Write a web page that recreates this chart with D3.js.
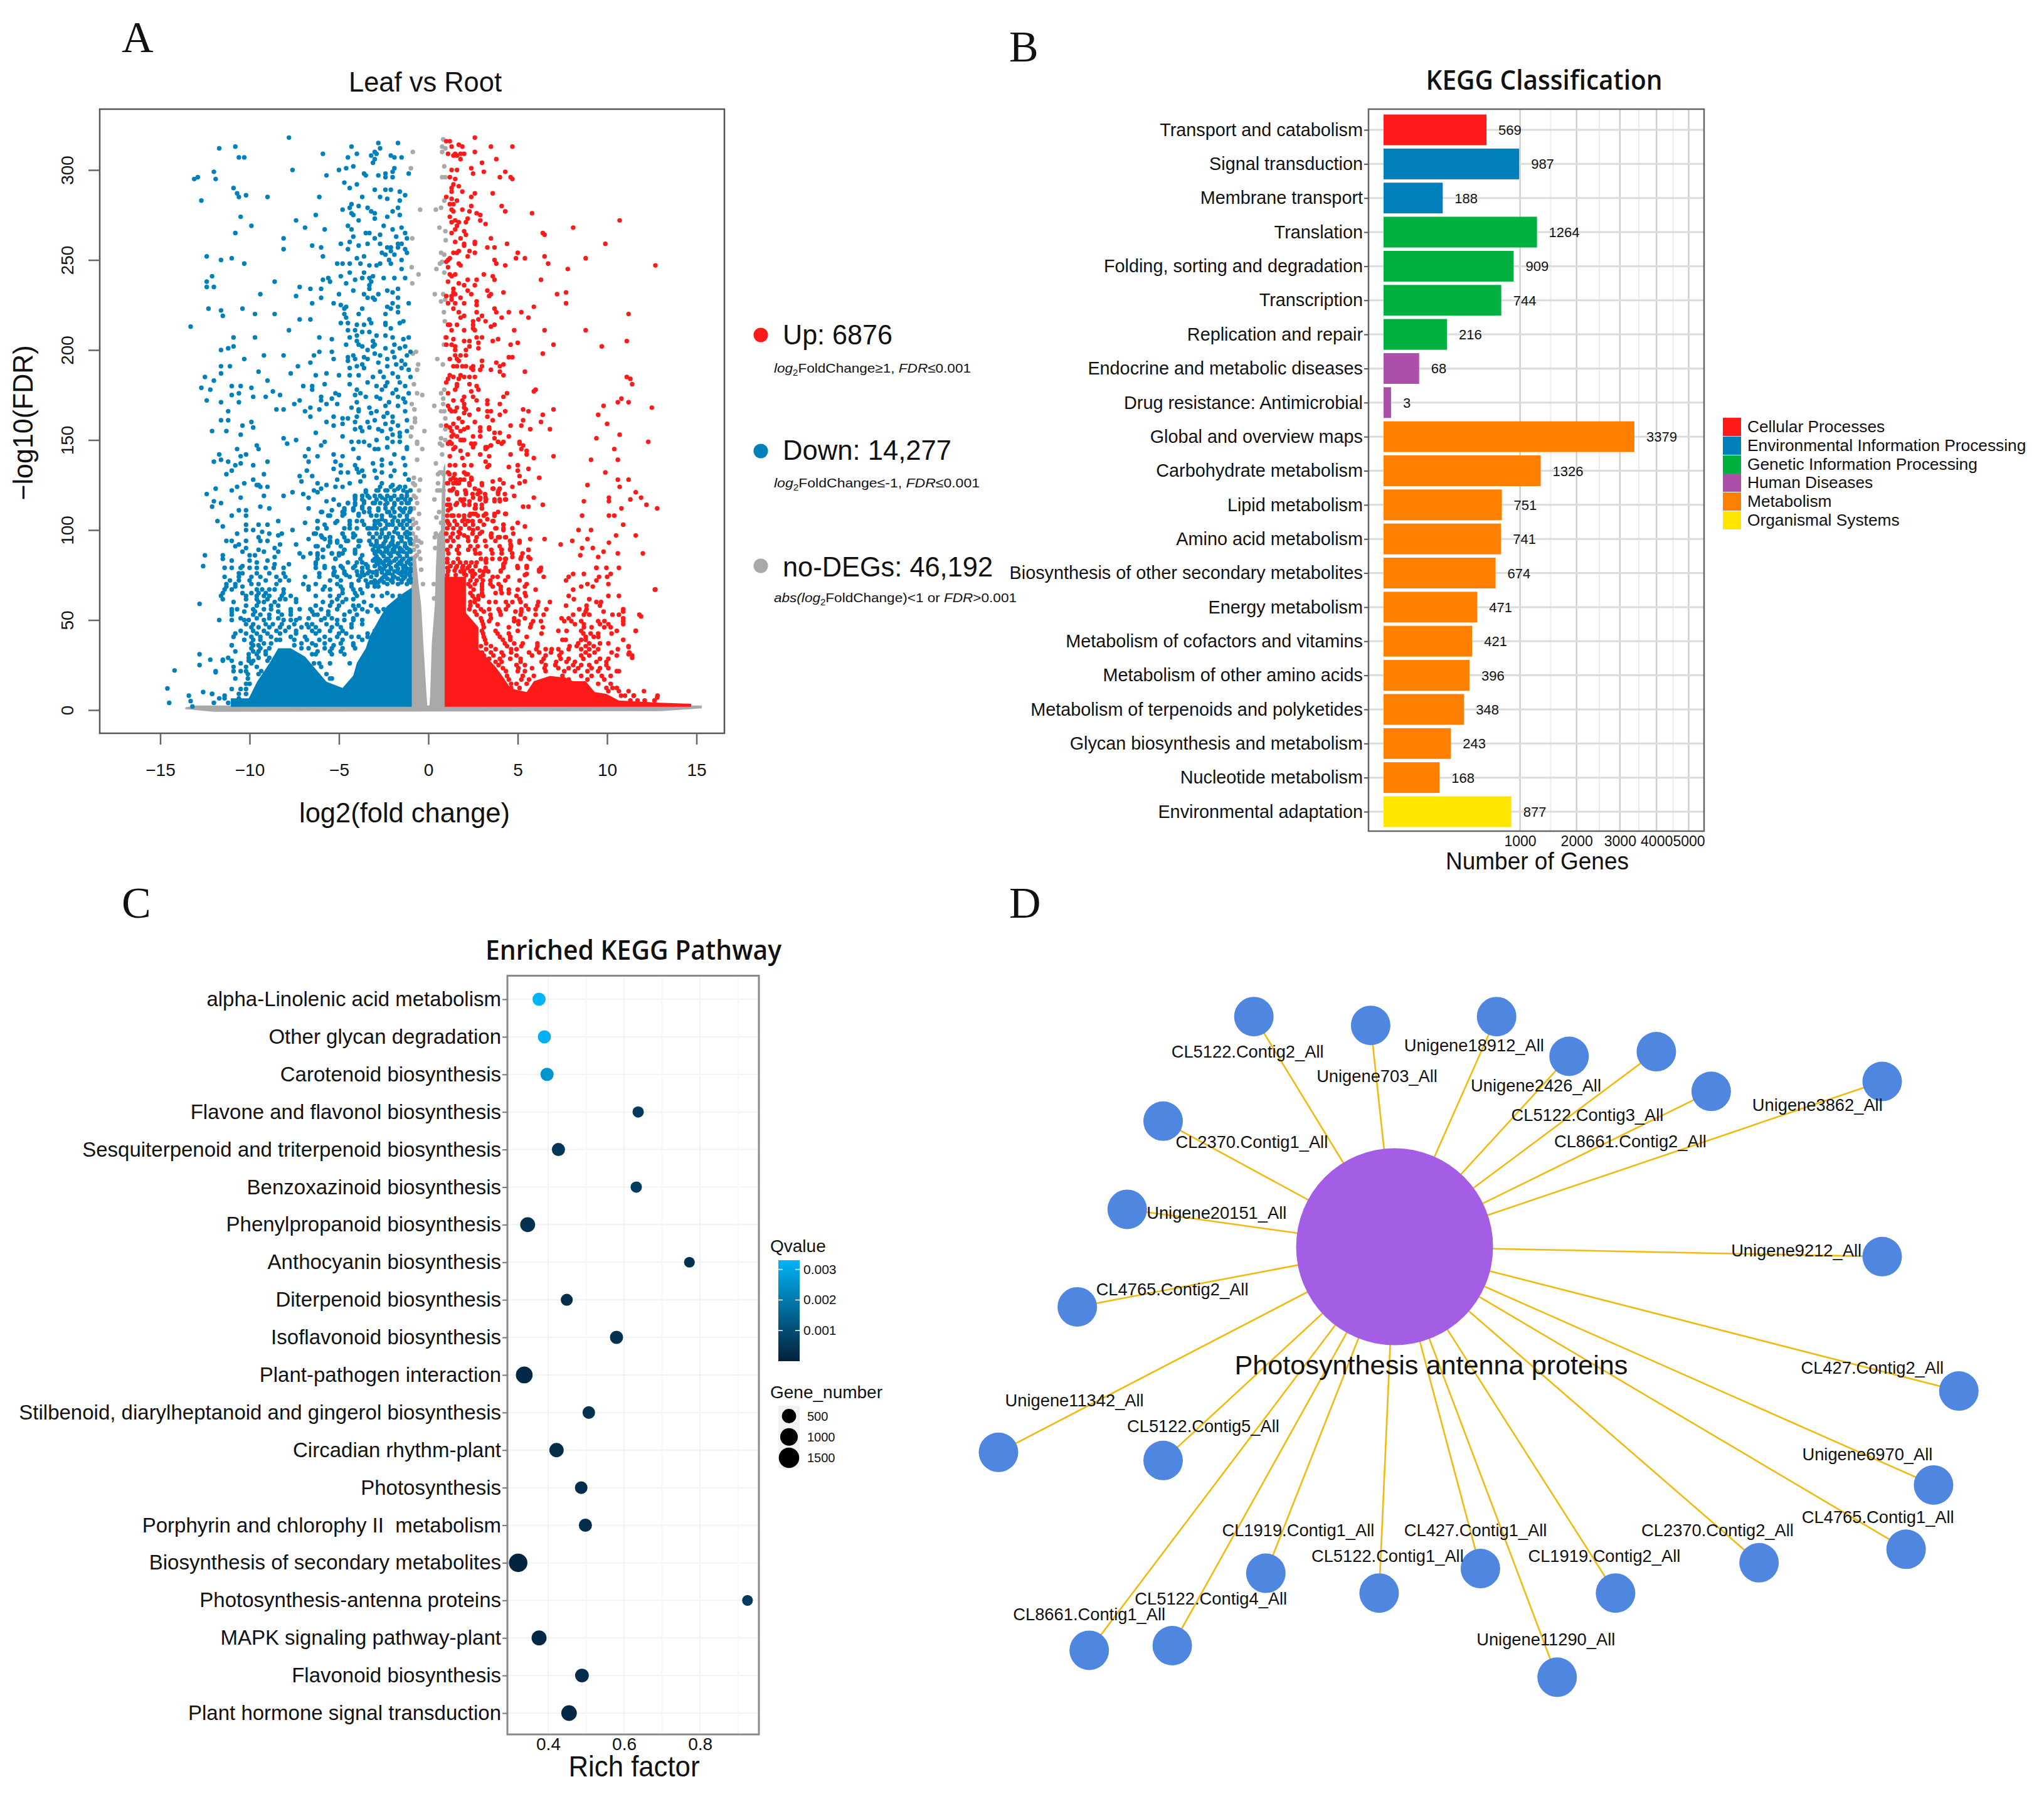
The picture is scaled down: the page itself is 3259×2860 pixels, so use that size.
<!DOCTYPE html>
<html><head><meta charset="utf-8">
<script src="https://cdn.jsdelivr.net/npm/d3@7/dist/d3.min.js"></script>
<style>html,body{margin:0;padding:0;background:#fff}svg{display:block}text{font-family:"Liberation Sans",Arial,sans-serif;fill:#111}</style>
</head><body><svg id="c" width="3259" height="2860" viewBox="0 0 3259 2860"></svg>
<script>
// ---------- Panel A: volcano (log2FC, -log10 FDR), dots; solid masses as read outlines
const blueUpperPts=[[-7.8,318],[-11.7,312],[-10.8,313],[-10.6,307],[-10.3,307],[-5.9,309],[-4.3,313],[-2.8,315],[-2.7,312],[-1.7,315],[-3,310],[-3.2,308],[-2.9,309],[-4,309],[-4.5,307],[-2.1,308],[-1.9,307],[-1.5,307],[-3,306],[-3.1,304],[-4.2,302],[-4.6,301],[-5,300],[-7.6,300],[-12,299],[-12.9,296],[-13.1,295],[-11.9,295],[-5.7,297],[-3.6,298],[-3.5,297],[-2.8,297],[-2.4,298],[-2.4,296],[-2,296],[-2,299],[-1.9,301],[-1.1,298],[-4.7,293],[-4.4,290],[-4,292],[-10.9,290],[-3,289],[-2.4,289],[-2.1,289],[-1.6,288],[-1.3,286],[-10.7,287],[-10.6,285],[-10.2,286],[-9,285],[-6.1,285],[-3.7,285],[-2.7,285],[-2.3,284],[-1.6,283],[-12.7,283],[-3.4,279],[-4.3,281],[-4.4,279],[-3.9,280],[-4.8,278],[-1.7,279],[-2,277],[-3.2,277],[-3,276],[-4.3,276],[-4.2,275],[-1.6,275],[-2.3,274],[-3,273],[-6.3,275],[-10.5,274],[-3.9,272],[-7.4,272],[-9.9,269],[-6.9,268],[-5.8,267],[-4.5,269],[-4.3,267],[-2.5,269],[-2,267],[-1.5,268],[-10.8,265],[-3.5,265],[-3.3,265],[-2.7,264],[-1.3,265],[-4.2,263],[-3,262],[-1.8,263],[-8.1,262],[-1.2,262],[-4.4,260],[-4.9,259],[-3.4,259],[-2.7,259],[-1.7,259],[-1.5,259],[-3.9,258],[-6.5,258],[-6,257],[-8.1,256],[-4.5,256],[-2.3,257],[-2.1,257],[-1.7,257],[-2.1,255],[-1.3,256],[-1.2,254],[-2.4,253],[-2.6,254],[-1.9,253],[-12.4,252],[-5.9,252],[-4,251],[-3.6,252],[-11.6,250],[-11,251],[-1.5,250],[-2.2,250],[-10.3,248],[-5.1,248],[-4.8,248],[-4.4,248],[-3.8,248],[-2.1,248],[-3.3,247],[-2.9,247],[-2.7,248],[-1.5,245],[-4.4,243],[-3.6,243],[-12.1,241],[-3.3,240],[-3.1,241],[-5.6,240],[-4.9,241],[-2.5,240],[-1.9,240],[-1.3,240],[-3.7,240],[-4.1,239],[-12.4,238],[-8.6,238],[-5.9,239],[-5.5,238],[-3.2,238],[-4.6,237],[-12.4,235],[-12,235],[-7.2,235],[-6.6,234],[-6,234],[-3.3,236],[-3.3,234],[-4.2,233],[-1.7,234],[-2.3,233],[-2,232],[-9.4,231],[-3.6,231],[-5,231],[-2.8,231],[-7.4,230],[-6,229],[-3.4,229],[-3.1,229],[-1.7,229],[-3,228],[-6.5,226],[-5.3,226],[-2,226],[-1.1,226],[-4.9,225],[-4.6,224],[-2.3,224],[-1.7,224],[-12.3,223],[-11.6,222],[-10.4,223],[-4.7,223],[-3.7,223],[-2.1,223],[-9.7,220],[-8.6,220],[-11.5,219],[-4.7,220],[-3.9,220],[-2.4,220],[-1.7,221],[-4.6,218],[-7.2,217],[-6.6,217],[-3.3,217],[-4.9,215],[-4.5,215],[-2.4,215],[-1.4,216],[-1.6,215],[-4,214],[-3.6,214],[-3.2,215],[-13.3,213],[-2.4,214],[-2.1,212],[-7.8,211],[-4.5,211],[-4.1,211],[-3.7,210],[-3.3,210],[-9.7,207],[-10.9,207],[-2.9,208],[-2.4,208],[-4,208],[-4.4,207],[-6.1,207],[-5.4,206],[-2,207],[-1.1,207],[-1.4,206],[-4,205],[-3.1,205],[-4.6,203],[-3.9,203],[-3,203],[-1.9,203],[-1.3,202],[-10.9,202],[-11.2,201],[-11.6,200],[-3.7,202],[-3.1,202],[-2.4,201],[-1.6,201],[-3.4,200],[-6.1,199],[-5.4,199],[-2,199],[-1,199],[-9.2,197],[-8.1,197],[-6.4,197],[-4.5,196],[-4.2,197],[-3,198],[-2.7,197],[-1.2,197],[-10.3,195],[-5.3,195],[-3.6,196],[-3.4,195],[-2.3,195],[-1.9,196],[-4.1,195],[-6.6,193],[-4.5,194],[-2.8,193],[-1.5,194],[-3.7,192],[-11.6,191],[-11.1,191],[-7.3,191],[-4,191],[-2.3,191],[-1.8,192],[-1.3,192],[-4.4,190],[-3.6,190],[-1.5,190],[-2.7,188],[-1.1,189],[-9.5,188],[-7.7,187],[-5.7,187],[-2,187],[-11.6,187],[-12.5,185],[-6.3,186],[-5,186],[-4.4,186],[-3.9,186],[-3.1,185],[-2.5,185],[-1.7,185],[-1,185],[-12,183],[-9,183],[-2.3,182],[-1.6,182],[-5.8,181],[-4.4,181],[-3.4,182],[-11,180],[-10.5,180],[-7,180],[-6.5,180],[-2.9,180],[-2.4,180],[-1.3,180],[-12.7,179],[-9.9,179],[-12.2,178],[-6.5,178],[-4,178],[-2.6,178],[-1.8,178],[-5.2,176],[-8.7,177],[-2,176],[-1.1,176],[-5,175],[-4.1,175],[-3.8,176],[-11,175],[-10.6,176],[-8.3,175],[-9.8,174],[-9.1,174],[-6,174],[-3.5,174],[-2.9,174],[-1.7,174],[-1.4,173],[-5.4,173],[-12.4,172],[-7.2,172],[-2.7,173],[-11.6,171],[-10.6,171],[-6,172],[-4,171],[-2.2,171],[-1.3,171],[-5.1,170],[-5.7,170],[-7.5,170],[-1.7,169],[-2.4,169],[-8.5,167],[-6.6,168],[-4.3,168],[-3.3,168],[-3.9,167],[-8.1,167],[-6.9,166],[-6.1,167],[-11.2,166],[-2.9,166],[-1.3,166],[-3.2,165],[-3.9,166],[-2.3,165],[-6.6,163],[-5.3,163],[-4,163],[-2.5,163],[-2,163],[-4.8,162],[-4.5,162],[-11.6,161],[-11.2,161],[-3.4,160],[-3,161],[-1.2,161],[-5.7,160],[-4.1,160],[-2.4,159],[-2,160],[-9.9,160],[-4.8,159],[-10.4,158],[-5.3,158],[-1.7,158],[-9.8,157],[-3.8,157],[-3.3,157],[-2.8,156],[-2.1,156],[-4.1,156],[-12.1,155],[-11.3,155],[-3.7,155],[-1.2,155],[-2.6,155],[-1.6,154],[-6.3,154],[-10.5,153],[-2,153],[-4.8,152],[-1.6,152],[-8.1,151],[-7.4,150],[-2.9,150],[-2.3,151],[-7.9,148],[-5.8,149],[-4.3,149],[-3.9,149],[-3.6,149],[-2,149],[-1.6,149],[-9.6,147],[-6,147],[-3.3,147],[-10.7,145],[-9.5,145],[-6.7,145],[-4.2,145],[-2.8,145],[-2.3,146],[-1.2,146]];
const blueLowerPts=[[-11.7,142],[-11.6,139],[-12,138],[-11.2,138],[-10.5,141],[-10.2,142],[-10.5,137],[-10.8,136],[-11,133],[-11.3,131],[-9.8,136],[-9,138],[-9.2,131],[-9.8,128],[-9.5,125],[-10.3,126],[-10.7,124],[-11.9,123],[-11,122],[-12.4,120],[-10.5,118],[-9.2,119],[-9,124],[-9.4,124],[-9.6,125],[-8.1,119],[-7.6,121],[-7,120],[-6.7,118],[-6.4,122],[-6.2,121],[-5.7,125],[-6,123],[-6.2,126],[-7.1,127],[-7.2,130],[-6.8,133],[-6.5,130],[-6.7,138],[-6.9,141],[-6.2,141],[-5.3,142],[-4.8,141],[-5.2,138],[-5.3,134],[-4.9,136],[-4.9,132],[-4.5,132],[-5.1,128],[-5.2,124],[-4.8,124],[-4.4,126],[-4.1,136],[-3.9,140],[-4,134],[-3.7,133],[-3.9,132],[-3.6,130],[-3.8,127],[-3.1,137],[-2.6,136],[-2.1,137],[-1.3,136],[-3,133],[-2.6,132],[-1.9,133],[-1.3,131],[-2.9,129],[-2.1,130],[-1.1,128],[-2.6,126],[-2,125],[-1.6,124],[-2.6,139],[-1.4,140],[-1.9,142],[-3,145],[-2.3,146],[-1.2,145],[-3.5,121],[-4.1,119],[-3.6,116],[-3.3,118],[-2.8,122],[-2.3,122],[-1.7,123],[-1.2,121],[-2.6,118],[-2.1,118],[-1.5,118],[-3,115],[-2.4,114],[-1.9,114],[-1.2,115],[-2.8,111],[-2.2,110],[-1.5,111],[-1,111],[-3.2,108],[-2.6,106],[-1.9,107],[-1.2,106],[-2.9,104],[-2.2,103],[-1.6,103],[-3.3,101],[-2.6,100],[-1.9,99],[-1.2,99],[-3.1,96],[-2.4,96],[-1.5,96],[-1,95],[-3.2,92],[-2.7,91],[-2,92],[-1.3,91],[-2.9,88],[-2.2,87],[-1.6,88],[-3,84],[-2.4,83],[-1.8,84],[-5.7,116],[-5.3,117],[-5,114],[-4.5,115],[-4.1,118],[-4.1,114],[-3.7,113],[-6.7,112],[-8.9,112],[-9.4,113],[-10.2,111],[-10.6,111],[-10.2,108],[-11,108],[-12.1,113],[-12,116],[-11.6,115],[-6,110],[-5.4,111],[-4.7,111],[-5.5,108],[-4.7,109],[-4.2,111],[-3.9,109],[-11.8,105],[-11.5,102],[-10.2,103],[-9.5,103],[-9,103],[-8.4,105],[-6.9,104],[-6.2,105],[-5.2,104],[-4.4,105],[-3.7,105],[-10.2,100],[-9.8,100],[-7.6,100],[-9.3,99],[-10.7,98],[-8.9,98],[-8.2,98],[-6.2,101],[-5.7,101],[-4.7,101],[-4,101],[-6.4,98],[-4.8,98],[-4.1,97],[-6,97],[-5.5,96],[-9.5,96],[-8.4,97],[-11.3,94],[-11,94],[-10.2,94],[-9.4,94],[-9,94],[-6.7,95],[-5.8,95],[-5.5,93],[-5.1,93],[-4.5,94],[-3.8,94],[-10.8,91],[-10.6,92],[-8.3,92],[-7.4,92],[-6.2,91],[-10.2,90],[-9.5,89],[-8.6,90],[-7.2,87],[-5.9,89],[-4.7,89],[-3.9,91],[-10.4,88],[-9.2,88],[-8.4,88],[-6.6,87],[-5.4,87],[-4.8,87],[-4.1,88],[-12.5,86],[-11.5,86],[-10,86],[-9.7,86],[-6.2,86],[-5.9,85],[-5,86],[-3.7,86],[-8.6,85],[-7,85],[-11.5,84],[-11,83],[-10,83],[-9,83],[-5.2,84],[-4.5,82],[-4,82],[-12.6,80],[-10.4,80],[-9.6,82],[-8.6,81],[-7.8,81],[-6.3,81],[-3.5,81],[-12.8,59],[-11,36],[-14.2,22],[-11.9,21],[-14.6,12],[-12.6,10],[-12.1,9],[-13.4,8],[-11.4,8],[-13.3,5],[-14.5,4],[-13.2,2],[-12.8,31],[-12.2,28],[-11.5,28],[-12.8,25]];
const blueRows=[[79,[-11.4,-11,-10.5,-10,-9.6,-9.1,-8.65,-8.1,-6.3,-5.8,-5.3,-4.8,-4.2,-3.7,-3.4,-2.7,-2.1,-1.4]],[76,[-10.6,-10.4,-9.6,-8.9,-8.1,-6.1,-5.3,-4.7,-3.7,-3.4,-2.9,-2.2,-1.6,-1.2]],[74,[-11.4,-10.6,-9.9,-9.4,-8.5,-8,-6.9,-6.1,-5.1,-4.4,-3.8,-3.2,-2.5,-1.9,-1.3]],[72,[-11.1,-10.6,-10,-9.1,-8.3,-7.8,-5.5,-4.9,-3.9,-3.5,-3,-2.7,-2.1,-1.5,-1.1]],[70,[-11.3,-10.8,-9.9,-9.5,-8.5,-7,-6.3,-5.1,-4.3,-3.4,-3,-2.3,-1.7,-1.2]],[68.6,[-11.3,-10.8,-10.4,-6.7,-5.8,-4.9,-4.3,-3.4,-3,-2.8]],[67,[-11.4,-11,-9.6,-9.3,-8.9,-8.6,-8.1,-6.7,-5.9,-5.5,-4.8,-4.2,-3.8]],[65,[-11.5,-10.4,-9.9,-9.5,-9.1,-8.1,-4.8,-4.1,-3.7,-2.3]],[63.4,[-11.6,-10.2,-9.6,-9.2,-8.9,-8.2,-7.7,-6.3,-5.5,-5,-4,-3.1,-2.6,-2,-1.6]],[61.6,[-11.5,-10.2,-9.6,-9,-8.3,-8,-7.4,-5.1,-4.6,-4.2]],[60,[-10.9,-9.5,-9.2,-8.6,-7.4,-5.9,-5.4,-4.8,-3.6]],[58,[-10.2,-9.6,-8.8,-8.4,-6.3,-5.5,-5,-4.2,-3.9,-3.2]],[56,[-11,-10.7,-9.8,-9.2,-8.8,-7.7,-7.2,-6.6,-6,-5.1,-4.1,-3.7,-2.9,-2.5]],[54.7,[-11,-10.3,-9.7,-8.4,-7.7,-6.5,-5.6,-4.4,-3.4,-2.8]],[53,[-11,-9.8,-9.4,-8.9,-8.2,-7.7,-6.4,-6.2,-5.6,-4.7,-4]],[51,[-10.5,-9.6,-8.9,-8.4,-7.2,-6.7,-5.8,-5.4,-4.2]],[50,[-11.7,-11,-10.3,-10.05,-9.2,-8.1,-7.7,-7.4,-6,-5.1,-4.7,-4.2,-3.7]],[47.7,[-10.2,-9.8,-9.1,-8.7,-8.2,-7.5,-6.8,-6.5,-5.7,-5.1,-4.3,-3.7]],[46,[-9.9,-9.5,-8.9,-8.3,-7.8,-7.1,-6.7,-6.3,-5.4,-4.9,-4.3]],[44,[-10.5,-9.8,-9.2,-8.5,-8,-7.4,-6.5,-6.1,-5.5,-4.8,-3]],[42.5,[-10.8,-10.2,-9.6,-9,-8.3,-7.4,-6.3,-5,-4.6,-3.4]],[40.7,[-10.9,-9.9,-9.4,-8.8,-7.7,-6.9,-5.8,-5.1,-4.3,-3.9,-3.4]],[39,[-10.3,-9.8,-9.4,-8.5,-8.3,-7.5,-6.8,-6.1,-5.5,-4.8,-3.7]],[37,[-9.9,-9.2,-8.8,-7.1,-6.5,-5.8,-4.9,-4.2]],[36,[-11,-9.8,-9.5,-7.5,-6.3,-5.3,-4.2]],[34.3,[-9.9,-9.4,-8.9,-7.1,-6.7,-5.8,-5.4,-4.8,-4.1]],[32.6,[-10.8,-9.8,-9.5,-9.1,-6.2,-5.5,-4.9]],[31,[-10.05,-9.6,-9.1,-6.5,-6.3,-5.4,-4.7]],[29,[-11.2,-10.05,-9.5,-8.9]],[27.4,[-11.5,-11,-10.05,-9.8,-9]],[26,[-10.5,-9.9,-6.4,-6.1,-5.5,-4.4]],[24,[-10.9,-10.2,-9.6,-6]],[21.6,[-11.9,-10.9,-10.5,-10.2,-9.35]],[20,[-10.1,-9.5,-5.7]],[17.5,[-10.8,-10.1,-5.5,-5.4]],[14.6,[-10.2,-10]],[11.7,[-11,-10.5,-10.2]],[9,[-12.1,-10.6,-10.2]],[6.5,[-11.7,-11.4,-10.6]],[4,[-12,-11.2]],
[124,[-2.7,-2.1,-1.6,-1.3]],[122,[-3.5,-2.9,-2.4,-1.9,-1.4,-1]],[119,[-4.1,-3.7,-3.4,-3,-2.7,-2.3,-1.9,-1.5,-1.2]],[117,[-4.1,-3.7,-2.9,-2.4,-2.1,-1.7,-1.3,-1]],[115,[-4.5,-4.1,-3.6,-3.1,-2.7,-2.3,-1.9,-1.5,-1.1]],[112,[-4.7,-4.2,-3.7,-3.3,-2.8,-2.4,-2,-1.6,-1.3,-1]],[110,[-5.95,-4.8,-3.6,-3.3,-2.3,-1.9,-1.4,-1.05]],[108,[-5.6,-4.8,-3.9,-2.9,-2.6,-2.1,-1.6,-1.2]],[105,[-6.2,-5.1,-4.4,-4,-3,-2.8,-2.4,-2,-1.7,-1.4,-1.05]],[103,[-5.8,-4.4,-3.6,-3,-2.7,-2.3,-2,-1.5,-1.2]],[101,[-5.7,-4.4,-3.4,-3.1,-2.9,-2.4,-1.8,-1.4,-1]],[98,[-6.3,-4.8,-4.2,-3.3,-2.9,-2.6,-2.2,-1.7,-1.3,-1.05]],[96,[-5.95,-5.5,-4.7,-4.2,-3.1,-2.7,-2.3,-2,-1.6,-1.2]],[94,[-5.5,-5.1,-4.6,-3.9,-3.3,-2.9,-2.4,-2,-1.5,-1.05]],[91,[-6.3,-5.6,-4.9,-3.9,-3,-2.6,-2.2,-1.8,-1.3]],[89,[-5.9,-4.7,-4.1,-3.1,-2.3,-2,-1.5,-1.05]],[87,[-6.2,-5.4,-5,-4.1,-3,-2.6,-2.1,-1.7,-1.2]],[84,[-6.2,-5.2,-3.8,-2.8,-2.3,-1.8,-1.4,-1]],[82,[-6.3,-3.7,-2.9,-2.6,-2.1,-1.6,-1.2]],[80,[-5.8,-4.9,-4.1,-3.4,-3,-2.4,-1.8,-1.3]],[77,[-5.25,-4.7,-4,-3.7,-3.3,-2.9,-2.3,-1.9,-1.45,-1]],[75,[-5.3,-4.6,-3.96,-3.6,-2.9,-2.4,-2,-1.5,-1.05]],
[92.5,[-2.9,-2.5,-2.1,-1.7,-1.3,-1]],[90,[-2.8,-2.4,-1.9,-1.6,-1.2]],[88,[-3,-2.7,-2.4,-1.9,-1.4,-1]],[85.5,[-2.9,-2.5,-2.1,-1.6,-1.2]],[83,[-3.1,-2.7,-2.2,-1.9,-1.5,-1.1]],[81,[-2.8,-2.5,-2.2,-1.7,-1.5,-1]],[78.5,[-2.7,-2.5,-2.1,-1.7,-1.2,-1]],[76.5,[-3.1,-2.6,-2.2,-1.7,-1.3]],[73,[-2.6,-2.3,-2,-1.7,-1.4,-1]],[71,[-3.2,-2.8,-2.5,-2,-1.5,-1]]];
const redUpperPts=[[2.6,318],[1,316],[1.2,316],[1.3,313],[1.7,314],[1.9,313],[3.5,313],[4.7,313],[2.6,310],[1.1,309],[1.5,309],[1.8,309],[2,309],[1.4,308],[1.6,308],[1.8,306],[3,304],[3.8,306],[1.3,300],[1.6,300],[2.4,301],[3.1,299],[4.3,299],[2.5,298],[1.2,296],[1.5,295],[4,296],[4.6,296],[4.7,295],[1.7,291],[1.4,292],[1.3,290],[1.3,288],[1.9,288],[2.6,287],[3.6,287],[2.4,285],[1,285],[1.3,284],[1.6,283],[1.2,281],[1.4,281],[2.4,280],[4.1,280],[1.3,278],[1.9,278],[2.3,277],[1.4,277],[4.3,277],[5.8,276],[2.7,276],[1.2,274],[2.9,275],[2.2,273],[2.9,272],[1.5,272],[10.7,272],[1.3,271],[1.7,271],[2.1,271],[3.2,270],[1.6,269],[1.5,267],[8.1,268],[2,266],[1.3,265],[2.1,264],[6.4,265],[6.5,264],[3.5,262],[1.8,262],[1.5,260],[2.6,260],[2,259],[2.6,259],[9.9,259],[4.4,259],[2,258],[3.3,257],[3.7,257],[1.7,255],[2.3,255],[1.6,254],[1.4,254],[2.6,254],[5,254],[2.2,252],[6.5,252],[5.4,251],[8.8,251],[4.9,251],[1.2,251],[1.1,250],[3.7,250],[1,249],[1.7,248],[3.8,248],[4.3,247],[6.7,248],[12.7,247],[1.1,246],[1.8,247],[7.8,245],[1.5,242],[1.2,242],[1.3,241],[3.1,242],[3.6,241],[3.7,239],[2.2,239],[2.7,239],[6.3,239],[1.1,238],[1.7,237],[2,236],[2.6,236],[1.4,234],[3.3,233],[2.2,233],[1.4,232],[4.2,232],[7.7,232],[7.2,231],[3.5,231],[2.4,231],[1.5,231],[1.3,230],[3.4,230],[1,230],[1.8,229],[1.3,228],[2.7,227],[1.1,226],[1.5,226],[2,226],[2.7,225],[7.7,226],[5.9,224],[1.4,223],[3.7,223],[1.7,221],[2.7,221],[3.8,221],[4.5,221],[5.2,221],[3,219],[2,219],[11.2,220],[1.8,218],[4.1,218],[5.6,218],[2.8,217],[3.2,216],[2.5,216],[1.1,214],[1.2,214],[1.6,214],[2.5,214],[3.7,214],[3.5,213],[2.5,212],[2,211],[1.3,211],[2.6,211],[4.8,211],[6.5,211],[8.8,211],[1,207],[2.7,207],[3,207],[3.9,206],[1.4,206],[2,205],[2.3,205],[3.6,205],[11.1,205],[5,204],[2.8,204],[7,203],[4.6,203],[1.3,203],[2.3,202],[1.5,202],[9.7,202],[1,203],[2.8,201],[2.1,200],[1.5,200],[6.4,198],[2.1,197],[1.8,197],[1.5,197],[4.5,196],[4.7,196],[1.2,195],[1.6,195],[1.7,194],[3,194],[3.8,193],[4.2,192],[4,191],[3,191],[1.4,191],[1.6,191],[1.9,191],[2.1,191],[2.5,191],[2.4,190],[2.5,189],[2.9,189],[3.5,189],[5.4,188],[4,188],[4.2,186],[1.2,186],[1.8,186],[2,185],[2.3,185],[2.6,185],[1.4,185],[11.1,185],[11.3,184],[1.1,184],[1.7,184],[11.4,181],[1,182],[1.6,181],[2.3,181],[2.7,180],[1.6,180],[6,178],[5.9,177],[2.8,178],[1.5,178],[2.4,177],[1.1,176],[4.4,176],[4.2,174],[2.5,174],[2,174],[10.8,173],[1.4,172],[1.9,172],[3.3,172],[2.7,172],[10.6,171],[11.2,171],[4,170],[2,170],[3.3,170],[9.8,169],[1.1,169],[1.6,168],[1.2,167],[2,168],[12.5,168],[2.1,167],[1.3,166],[1.5,166],[2.8,167],[3.3,166],[3.5,166],[4.3,166],[5.3,167],[5.6,166],[7,167],[2,165],[2.3,164],[3.3,163],[4,164],[6.4,164],[9.5,164],[1.7,162],[3.6,161],[5.3,161],[1.9,160],[2.6,160],[6.3,160],[10,159],[1,158],[1.4,159],[4.6,158],[5.2,158],[2.2,157],[3.4,157],[2.9,157],[1.2,157],[1.6,157],[2,156],[5.7,156],[6.8,156],[1.3,155],[1.8,155],[3.4,156],[2.9,155],[1.4,153],[4,154],[3.7,154],[1.3,152],[2.5,152],[2.9,152],[4.5,152],[9.4,151],[10.7,153],[1.6,152],[3.7,151],[1.2,149],[1.8,150],[2,150],[12.3,149],[3.9,149],[4.1,148],[5.1,149],[1.3,148],[2.4,148],[2.6,148],[3.5,147],[3.3,146],[5.3,147],[1.5,146],[2.5,146],[10.4,145],[5.2,145],[3.2,145],[5.5,144]];
const redLowerPts=[[7,141],[9.1,139],[10.6,139],[5.9,140],[5.5,142],[4.6,142],[5.1,148],[3.9,149],[4.2,149],[3.2,146],[3.5,147],[2.9,142],[3.4,141],[3.2,138],[3.4,136],[3.3,135],[2.4,136],[2.5,147],[1.9,150],[1.1,148],[1.4,145],[1.8,144],[2.2,142],[1.2,141],[1.9,140],[1.5,136],[1.2,136],[2,136],[4.5,135],[5,136],[5,133],[5.6,134],[6.2,129],[5.1,130],[9.9,132],[10.6,128],[11.2,128],[5.4,127],[5.1,126],[3.6,127],[4,128],[4.2,126],[3,125],[4.7,124],[8.9,125],[10.7,124],[1.1,132],[2,132],[2.2,131],[2.4,129],[1.4,129],[1.8,128],[1.1,126],[1.6,126],[2.3,125],[3.6,123],[2.6,123],[1.2,122],[1.6,121],[2.1,121],[2.9,121],[3.9,121],[11.6,121],[11.9,118],[11.3,117],[10.1,118],[10.1,116],[8.7,116],[5.9,118],[4.8,119],[3.9,120],[3.2,118],[3.2,116],[2.9,118],[3.7,116],[4,116],[4.3,117],[2.5,118],[1.9,116],[2.3,116],[1.2,114],[1.6,115],[2.6,112],[2,114],[3,112],[12.2,114],[12.8,112],[10.8,112],[6.4,114],[5.6,113],[5.3,113],[1.1,111],[2.5,109],[3.2,109],[3.9,110],[4.3,109],[3.7,108],[8.6,108],[10.1,108],[10.4,108],[1.4,108],[2,106],[2.2,105],[2.9,105],[3.3,106],[3.6,105],[5,104],[10.9,103],[1.1,104],[1.6,103],[4.2,103],[5.4,102],[2.5,100],[3.8,101],[4.7,101],[8.4,100],[9.1,100],[4.2,100],[1.7,99],[3,99],[2,97],[3.5,97],[3.9,96],[4.3,96],[10.5,97],[11.6,97],[5.7,95],[6.5,95],[8.9,95],[8.05,94],[10.1,93],[4.6,92],[5.1,93],[7.4,92],[9.2,90],[9.8,88],[8.6,90],[4.1,89],[4.6,90],[5.6,89],[10.6,87],[12,87],[8.5,86],[5.6,85],[5.2,85],[9.5,85],[4.7,85],[4,84],[4.3,84],[3.2,83],[4.2,81],[5.5,80],[5,79],[9.4,79],[6.2,78],[12.7,67],[11.9,52],[11.6,44],[11.2,35],[11.2,31],[11.4,29],[12.8,7],[11.5,8]];
const redRows=[[79,[1.07,1.54,1.9,2.2,3.2,4.2,5,5.5,6.3,9.4,9.96,10.66]],[77,[1.1,1.8,2.35,3.1,3.35,4.05,6.2]],[75.6,[2,2.6,5.5,8.1,8.7,10.2]],[74,[2.47,2.9,3.6,3.87,4.46,6.45,7.85,9.55,10]],[72,[2.35,2.7,3.05,3.47,4.3,5.1,7.7,9.4]],[70,[2.24,2.6,3,3.47,3.93,5.5,8.9,10.07]],[68.6,[2.35,3,3.6,4.05,5.4,8.55,9.2]],[66.9,[2.53,3,4.05,4.5,5,6,8.1,12.67]],[65,[2.35,3,3.76,4.1,4.5,5.4]],[63.4,[2.47,2.8,3.05,4.93,5.45,7.85,10.07,10.66]],[61.6,[2.6,2.8,5.1,8.14,9]],[60,[2.35,2.6,3.4,3.76,4.34,4.7,5.16,6.15,6.8,9.4,9.66]],[58,[2.35,2.76,4.46,5.45,6.1,7.7,8.85,9.6]],[56,[2.3,2.94,3.4,3.93,4.34,5.2,5.6,6,6.6,8.44,8.85,10.9]],[54.7,[2.6,3.1,4,4.87,5.2,8.8,9.8,10.9]],[53,[2.7,3.47,4.05,5.16,6,6.45,8.1,8.7,9,10.3,10.66,11.8]],[51,[2.94,3.5,4.8,5.4,7.45,7.85,10.9]],[49.4,[3,3.4,4.8,5.04,5.86,6.3,7.6,8,8.55,9.5,9.85,10.9]],[47.7,[3.06,3.87,5.04,5.75,8.2,8.7,9.6,10.07,10.9]],[46,[3.1,4.5,5.7,6.4,8.7,9.13,9.84,10.2]],[44,[3,3.76,5,7.27,7.73,8.55,10.54,11.6]],[42.5,[3.06,3.87,4.5,6.33,8.67,9.08,9.5,10.25]],[40.7,[3.1,4,4.58,5.5,8.8,9.25,9.5]],[39,[3.17,4.17,4.58,7.5,7.68,8.55,8.8,10.9]],[37,[3.23,4.28,4.8,5.28,6.1,8.38,9,9.6,10.07]],[35.5,[2.94,3.5,4.4,5.2,6.1,7.9,8.3,8.8,9.25,11.2]],[33.8,[3.23,3.76,4.63,4.93,6.04,6.56,6.9,7.27,7.85,8.55,9,9.5,10.6]],[32,[3,3.5,4.1,4.63,5.63,6.2,6.86,7.44,8.8,9.3,10.25,11.24]],[30.3,[3.1,3.64,4.2,4.93,5.8,6.56,7.33,8.55,9,10.54,11.4]],[28.5,[3.4,4,4.58,5.16,6.45,7.4,7.85,8.67,9.6,10.07]],[26.8,[3.76,4.1,5.16,6.33,7.15,7.73,8.2,9.4,9.96]],[25,[3.93,4.93,5.4,6.56,7.1,8.1,8.55,9,9.96]],[23.3,[4.17,5.04,5.8,6.5,7.27,7.85,8.38,9.13,9.6,10.07]],[21.6,[4.34,5,5.4,6.56,7.6,8.2,8.9,9.5,10.54,10.66]],[19,[4.4,5.28,5.9,7.5,8.55,9.13,9.7,10.2]],[17,[4.5,5.2,5.63,7.6,7.85,8.9,9.84]],[14.6,[4.63,4.93,5.5,9.5,10.2]],[12.3,[4.63,5.1,9.96,10.3,10.54]],[10.5,[4.58,11.2,12.06,10.66,10.07]],[8,[11.48,12.82,10.78,11]],[5.3,[11.3,11.7,12.1,12.65]],
[108,[1.06,1.3,1.7,2,2.3,2.76,3.1,3.7]],[105,[1.06,1.47,1.9,2.23,2.47,2.88,3.64]],[103,[1.18,1.6,2.06,2.5,3.1,4.2]],[101,[1.06,1.4,1.8,2.29,2.76,3.75,4.2]],[98,[1,1.36,1.77,2.47,2.88,3.52,4.75]],[96,[1.24,1.65,2.2,2.7,3.52,3.99,4.34]],[94,[1.06,1.4,2.23,2.64,3.17,3.75,4.57,5.1]],[91,[1.24,1.7,2.35,2.76,3.23,3.99,4.63]],[89,[1.06,1.6,2.23,2.6,3.52,4.1,4.57,5.6]],[87,[1.12,1.7,2.64,2.88,3.58,4.1,4.69,5.27]],[84,[1.06,1.65,2.94,3.23,3.58,3.99,4.34,5.16,5.7]],[82,[1.06,1.4,1.77,2.1,2.41,2.7,3.23,4.28]],[80,[1.24,1.6,1.94,2.29,2.64,4.2,4.98,5.5]],[77.5,[1.12,1.47,2,2.47,2.88,3.23,4.05,6.27]],[75,[1.06,1.53,2.1,2.47,3.05,5.4]],
[131,[1.18,1.47,2.1]],[128,[1.24,1.53,1.77,2,2.41]],[126,[1.06,1.4,1.7,2.29,2.99]],[123,[1.4,3.64,3.99]],[122,[1.3,2.06,2.82,3.93]],[120,[1.6,2.1,2.47,2.76,3.17,4.28]],[117,[1.12,1.8,2,2.88,3.23,3.7,3.99,4.34]],[114,[1.06,1.53,2,2.29,2.64,2.99]],[112,[1.24,2.64,2.99]],[109,[2.35,2.64,3.23,3.7,4.34]]];
const greyPts=[[0.83,317],[0.77,313],[0.95,312],[0.77,310],[0.89,302],[0.77,296],[0.95,296],[0.89,283],[0.42,278],[0.71,279],[-0.46,278],[0.62,268],[0.95,266],[0.97,261],[0.71,254],[0.89,253],[0.77,249],[0.65,248],[0.45,245],[0.89,243],[0.36,231],[0.83,231],[0.95,228],[0.71,227],[0.87,221],[0.92,216],[0.95,207],[0.87,203],[0.5,195],[0.81,192],[0.89,178],[0.71,176],[0.83,173],[0.83,170],[0.33,169],[0.71,166],[0.89,166],[0.95,162],[0.71,158],[0.95,156],[0.71,151],[0.77,147],[0.95,150],[-0.87,310],[-0.98,301],[-0.9,262],[-0.93,246],[-0.55,242],[-0.9,237],[-0.69,199],[-0.87,198],[-0.57,192],[-0.63,189],[-0.81,181],[-0.63,176],[-0.34,175],[-0.93,170],[-0.78,167],[-0.75,162],[-0.75,160],[-0.93,157],[-0.22,155],[-0.98,152],[-0.63,149],[-0.34,145],[-0.63,148],[-0.63,139],[0.42,137],[-0.81,129],[-0.46,128],[-0.75,125],[-0.52,122],[-0.81,119],[0.34,117],[-0.63,115],[-0.81,112],[-0.52,109],[-0.87,106],[-0.69,104],[-0.57,101],[-0.87,98],[0.36,96],[-0.75,94],[-0.4,93],[-0.63,91],[-0.81,89],[-0.52,88],[-0.75,85],[0.65,148],[0.77,142],[0.54,131],[0.77,132],[0.54,126],[0.71,122],[0.6,110],[0.71,104],[0.42,98],[0.5,122],[0.6,122],[0.85,122],[0.65,132],[0.85,131],[-0.85,126],[-0.7,118],[-0.85,103],[-0.7,96],[-0.55,94],[-0.85,92],[-0.65,86],[-0.45,84],[-0.4,78],[-0.3,70],[0.3,70],[0.32,62],[0.38,90],[0.45,107]];
const blueDense=[[-11.05,1.8],[-11.05,6.5],[-10.05,6.5],[-9.93,8.8],[-9.58,15.8],[-8.88,26.2],[-8.4,34.3],[-7.7,34.3],[-6.9,29.7],[-6.3,22.7],[-5.7,15.8],[-4.8,12.3],[-4.2,19.2],[-4,26.2],[-3.5,34.3],[-3.27,41.3],[-2.68,51.8],[-2.33,57.6],[-1.63,63.4],[-0.93,68],[-0.93,1.8]];
const redDense=[[0.91,74],[2.1,74],[2.1,54],[2.8,46],[2.8,34],[3.2,30],[3.76,24],[4.2,18],[4.6,12],[5.5,10],[5.9,16],[6.8,19],[7.6,18],[8.1,16],[8.8,16],[9.3,10],[9.96,9],[10.66,5.3],[12.9,4.1],[14.7,3.5],[14.7,1.8],[0.91,1.8]];
const greyBand=[[-13.6,1.5],[-13,2.5],[15.3,2.5],[15.3,1],[13,-0.6],[-12,-1],[-13.6,0.5]];
const greyLeft=[[-0.95,1],[-0.95,86],[-0.69,84],[-0.55,70],[-0.4,58],[-0.28,37],[-0.1,8],[-0.05,1]];
const greyRight=[[0.05,1],[0.1,8],[0.19,37],[0.36,58],[0.42,79],[0.5,97],[0.7,100],[0.75,120],[0.85,135],[0.95,137],[0.95,1]];
const volcanoXTicks=[-15,-10,-5,0,5,10,15];
const volcanoYTicks=[0,50,100,150,200,250,300];
// ---------- Panel B
const keggNames=["Transport and catabolism","Signal transduction","Membrane transport","Translation","Folding, sorting and degradation","Transcription","Replication and repair","Endocrine and metabolic diseases","Drug resistance: Antimicrobial","Global and overview maps","Carbohydrate metabolism","Lipid metabolism","Amino acid metabolism","Biosynthesis of other secondary metabolites","Energy metabolism","Metabolism of cofactors and vitamins","Metabolism of other amino acids","Metabolism of terpenoids and polyketides","Glycan biosynthesis and metabolism","Nucleotide metabolism","Environmental adaptation"];
const keggValues=[569,987,188,1264,909,744,216,68,3,3379,1326,751,741,674,471,421,396,348,243,168,877];
const keggClass=[0,1,1,2,2,2,2,3,3,4,4,4,4,4,4,4,4,4,4,4,5];
const keggClassNames=["Cellular Processes","Environmental Information Processing","Genetic Information Processing","Human Diseases","Metabolism","Organismal Systems"];
const keggColors=["#ff1a1a","#0080bb","#00b140","#ac4fa8","#ff8000","#ffe600"];
const keggTicks=[1000,2000,3000,4000,5000];
const keggMinor=[1500,2500,3500,4500];
// ---------- Panel C
const pathNames=["alpha-Linolenic acid metabolism","Other glycan degradation","Carotenoid biosynthesis","Flavone and flavonol biosynthesis","Sesquiterpenoid and triterpenoid biosynthesis","Benzoxazinoid biosynthesis","Phenylpropanoid biosynthesis","Anthocyanin biosynthesis","Diterpenoid biosynthesis","Isoflavonoid biosynthesis","Plant-pathogen interaction","Stilbenoid, diarylheptanoid and gingerol biosynthesis","Circadian rhythm-plant","Photosynthesis","Porphyrin and chlorophy II\u00a0 metabolism","Biosynthesis of secondary metabolites","Photosynthesis-antenna proteins","MAPK signaling pathway-plant","Flavonoid biosynthesis","Plant hormone signal transduction"];
const richFactor=[.376,.39,.397,.637,.427,.632,.346,.772,.449,.58,.337,.507,.422,.487,.498,.321,.925,.376,.489,.455];
const geneNumber=[360,360,360,150,360,150,590,90,220,360,860,290,510,290,360,1150,90,590,430,680];
const qValue=[.0033,.0032,.0026,.0006,.0005,.0006,.0004,.0004,.0003,.0004,.0002,.0004,.0003,.0003,.0003,.0001,.0006,.0002,.0003,.0002];
const richTicks=[.4,.6,.8];
const qTicks=[.003,.002,.001];
const geneKey=[500,1000,1500];
// ---------- Panel D (network layout units)
const netNames=["CL5122.Contig2_All","Unigene703_All","Unigene18912_All","Unigene2426_All","CL5122.Contig3_All","CL8661.Contig2_All","Unigene3862_All","Unigene9212_All","CL427.Contig2_All","Unigene6970_All","CL4765.Contig1_All","CL2370.Contig2_All","CL1919.Contig2_All","Unigene11290_All","CL427.Contig1_All","CL5122.Contig1_All","CL1919.Contig1_All","CL5122.Contig4_All","CL8661.Contig1_All","CL5122.Contig5_All","Unigene11342_All","CL4765.Contig2_All","Unigene20151_All","CL2370.Contig1_All"];
const netX=[445,611,790,893,1017,1095,1338,1338,1447,1411,1372,1163,959,876,767,623,462,329,211,316,82,194,265,316];
const netY=[237,252,237,305,297,365,348,648,878,1039,1149,1172,1224,1368,1182,1224,1190,1314,1322,997,983,734,567,416];
const netLabelX=[436,620,758,846,919,980,1246,1216,1324,1317,1332,1104,943,860,760,635,508,384,211,373,190,329,392,442];
const netLabelY=[298,339,287,355,406,451,389,638,839,987,1094,1117,1161,1304,1117,1161,1117,1234,1261,939,895,705,573,452];
const hub={name:"Photosynthesis antenna proteins",x:645,y:631};

const svg=d3.select("#c");
svg.append("rect").attr("width",3259).attr("height",2860).attr("fill","#fff");
function txt(g,s,x,y,size,o={}){
  const t=g.append("text").attr("x",x).attr("y",y).attr("font-size",size).attr("text-anchor",o.anchor||"start").text(s);
  if(o.family)t.style("font-family",o.family);
  if(o.weight)t.attr("font-weight",o.weight);
  if(o.len)t.attr("textLength",o.len).attr("lengthAdjust","spacingAndGlyphs");
  if(o.rot!==undefined)t.attr("transform",`rotate(${o.rot},${x},${y})`);
  return t;
}
const serif='"Liberation Serif",serif';
[["A",194,83],["B",1609,98],["C",194,1463],["D",1609,1463]].forEach(d=>txt(svg,d[0],d[1],d[2],70,{family:serif}));

// ===== A
(function(){
  const g=svg.append("g");
  const L=159,R=1155,T=174,B=1169;
  const x=d3.scaleLinear().domain([(L-683)/28.5,(R-683)/28.5]).range([L,R]);
  const y=d3.scaleLinear().domain([(1132-B)/2.87,(1132-T)/2.87]).range([B,T]);
  const poly=d3.line().x(d=>x(d[0])).y(d=>y(d[1])).curve(d3.curveLinearClosed);
  const gry="#a9a9a9",blu="#0080bb",red="#ff1a1a";
  const rows=r=>r.flatMap(([v,xs])=>xs.map(u=>[u,v]));
  [greyBand,greyLeft,greyRight].forEach(p=>g.append("path").attr("d",poly(p)).attr("fill",gry));
  const dots=(a,c)=>g.append("g").attr("fill",c).selectAll("circle").data(a).join("circle").attr("cx",d=>x(d[0])).attr("cy",d=>y(d[1])).attr("r",3.7);
  dots(greyPts,gry);
  g.append("path").attr("d",poly(blueDense)).attr("fill",blu);
  g.append("path").attr("d",poly(redDense)).attr("fill",red);
  dots(blueUpperPts.concat(blueLowerPts,rows(blueRows)),blu);
  dots(redUpperPts.concat(redLowerPts,rows(redRows)),red);
  g.append("rect").attr("x",L).attr("y",T).attr("width",R-L).attr("height",B-T).attr("fill","none").attr("stroke","#555").attr("stroke-width",2.5);
  const ax=g.append("g").attr("transform",`translate(0,${B})`).call(d3.axisBottom(x).tickValues(volcanoXTicks).tickSize(18).tickPadding(30));
  ax.select(".domain").remove();
  ax.selectAll("line").attr("stroke","#666").attr("stroke-width",2.5);
  ax.selectAll("text").attr("font-size",28).style("font-family",'"Liberation Sans"').attr("fill","#222");
  const ay=g.append("g").attr("transform",`translate(${L},0)`).call(d3.axisLeft(y).tickValues(volcanoYTicks).tickSize(18).tickPadding(0));
  ay.select(".domain").remove();
  ay.selectAll("line").attr("stroke","#666").attr("stroke-width",2.5);
  ay.selectAll("text").attr("font-size",28).style("font-family",'"Liberation Sans"').attr("fill","#222").attr("text-anchor","middle").attr("dy",0).attr("x",-42).attr("y",0)
    .attr("transform",function(){return "rotate(-90,-42,0)";}).attr("dominant-baseline","auto");
  txt(g,"Leaf vs Root",678,146,44,{anchor:"middle",len:244});
  txt(g,"log2(fold change)",645,1311,44,{anchor:"middle",len:336});
  txt(g,"\u2212log10(FDR)",52,674,44,{anchor:"middle",len:247,rot:-90});
  const legend=[[red,534,"Up: 6876",549,175],[blu,719,"Down: 14,277",733,269],[gry,902,"no-DEGs: 46,192",919,335]];
  legend.forEach(d=>{
    g.append("circle").attr("cx",1213).attr("cy",d[1]).attr("r",11.5).attr("fill",d[0]);
    txt(g,d[2],1248,d[3],44,{len:d[4]});
  });
  function sub(yy,parts,w){
    const t=g.append("text").attr("x",1234).attr("y",yy).attr("font-size",21).attr("textLength",w).attr("lengthAdjust","spacingAndGlyphs");
    parts.forEach(p=>{const s=t.append("tspan").text(p[0]);if(p[1]==="i")s.attr("font-style","italic");
      if(p[1]==="s")s.attr("font-size",14).attr("dy",5);if(p[1]==="u")s.attr("dy",-5);});
  }
  sub(594,[["log","i"],["2","s"],["FoldChange\u22651, ","u"],["FDR","i"],["\u22640.001"]],314);
  sub(777,[["log","i"],["2","s"],["FoldChange\u2264-1, ","u"],["FDR","i"],["\u22640.001"]],328);
  sub(960,[["abs(log","i"],["2","s"],["FoldChange)<1 or ","u"],["FDR","i"],[">0.001"]],387);
})();

// ===== B
(function(){
  const g=svg.append("g");
  const L=2182,R=2717,T=174,B=1325;
  const x=d3.scaleSqrt().domain([0,5000]).range([2206,2692.5]);
  const y=d3.scalePoint().domain(keggNames).range([207,1294]);
  keggMinor.forEach(v=>g.append("line").attr("x1",x(v)).attr("x2",x(v)).attr("y1",T).attr("y2",B).attr("stroke","#ececec").attr("stroke-width",2));
  keggTicks.forEach(v=>g.append("line").attr("x1",x(v)).attr("x2",x(v)).attr("y1",T).attr("y2",B).attr("stroke","#cfcfcf").attr("stroke-width",2.5));
  keggNames.forEach(n=>g.append("line").attr("x1",L).attr("x2",R).attr("y1",y(n)).attr("y2",y(n)).attr("stroke","#dcdcdc").attr("stroke-width",3));
  g.selectAll("rect.bar").data(keggNames).join("rect").attr("class","bar").attr("x",x(0)).attr("y",d=>y(d)-24.5).attr("height",49)
    .attr("width",(d,i)=>x(keggValues[i])-x(0)).attr("fill",(d,i)=>keggColors[keggClass[i]]);
  g.selectAll("text.val").data(keggNames).join("text").attr("class","val").attr("x",(d,i)=>x(keggValues[i])+19).attr("y",d=>y(d)+8).attr("font-size",22).text((d,i)=>keggValues[i]);
  g.append("rect").attr("x",L).attr("y",T).attr("width",R-L).attr("height",B-T).attr("fill","none").attr("stroke","#666").attr("stroke-width",2.5);
  const ay=g.append("g").attr("transform",`translate(${L},0)`).call(d3.axisLeft(y).tickSize(7).tickPadding(2));
  ay.select(".domain").remove();ay.selectAll("line").attr("stroke","#555").attr("stroke-width",2);
  ay.selectAll("text").attr("font-size",28.8).style("font-family",'"Liberation Sans"').attr("fill","#111");
  const ax=g.append("g").attr("transform",`translate(0,${B})`).call(d3.axisBottom(x).tickValues(keggTicks).tickFormat(d3.format("d")).tickSize(0).tickPadding(8));
  ax.select(".domain").remove();
  ax.selectAll("text").attr("font-size",23).style("font-family",'"Liberation Sans"').attr("fill","#111");
  txt(g,"KEGG Classification",2462,143,44,{anchor:"middle",len:377,family:'"Open Sans"',weight:600});
  txt(g,"Number of Genes",2451,1386,38,{anchor:"middle",len:292});
  const ly=[681,711,741,770,800,830];
  keggClassNames.forEach((n,i)=>{
    g.append("rect").attr("x",2747).attr("y",ly[i]-15).attr("width",29).attr("height",29).attr("fill",keggColors[i]);
    txt(g,n,2786,ly[i]+8,26.3);
  });
})();

// ===== C
(function(){
  const g=svg.append("g");
  const L=809,R=1210,T=1555.5,B=2765;
  const x=d3.scaleLinear().domain([.2926,.955]).range([L,R]);
  const y=d3.scalePoint().domain(pathNames).range([1593,2731]);
  const size=d3.scaleSqrt().domain([0,1950]).range([0,16.3]);
  const col=d3.scaleLinear().domain([0,.0033]).range(["#03203a","#00b4f8"]);
  pathNames.forEach(n=>g.append("line").attr("x1",L).attr("x2",R).attr("y1",y(n)).attr("y2",y(n)).attr("stroke","#f3f3f3").attr("stroke-width",2));
  [.3,.4,.5,.6,.7,.8,.9].forEach(v=>g.append("line").attr("x1",x(v)).attr("x2",x(v)).attr("y1",T).attr("y2",B).attr("stroke",richTicks.some(t=>Math.abs(t-v)<1e-6)?"#f2f2f2":"#f8f8f8").attr("stroke-width",2));
  g.selectAll("circle.p").data(pathNames).join("circle").attr("class","p").attr("cx",(d,i)=>x(richFactor[i])).attr("cy",d=>y(d))
    .attr("r",(d,i)=>size(geneNumber[i]+450)).attr("fill",(d,i)=>col(qValue[i]));
  g.append("rect").attr("x",L).attr("y",T).attr("width",R-L).attr("height",B-T).attr("fill","none").attr("stroke","#8a8a8a").attr("stroke-width",3);
  const ay=g.append("g").attr("transform",`translate(${L},0)`).call(d3.axisLeft(y).tickSize(8).tickPadding(2));
  ay.select(".domain").remove();ay.selectAll("line").attr("stroke","#777").attr("stroke-width",2);
  ay.selectAll("text").attr("font-size",33).style("font-family",'"Liberation Sans"').attr("fill","#111");
  const ax=g.append("g").attr("transform",`translate(0,${B})`).call(d3.axisBottom(x).tickValues(richTicks).tickFormat(d3.format(".1f")).tickSize(0).tickPadding(5));
  ax.select(".domain").remove();
  ax.selectAll("text").attr("font-size",28).style("font-family",'"Liberation Sans"').attr("fill","#111");
  txt(g,"Enriched KEGG Pathway",1010,1530,44,{anchor:"middle",len:472,family:'"Open Sans"',weight:600});
  txt(g,"Rich factor",1011,2832,46,{anchor:"middle",len:209});
  txt(g,"Qvalue",1228,1996,28);
  const defs=svg.append("defs");
  const lg=defs.append("linearGradient").attr("id","qg").attr("x1",0).attr("x2",0).attr("y1",1).attr("y2",0);
  d3.range(0,1.01,.1).forEach(t=>lg.append("stop").attr("offset",t).attr("stop-color",col(t*.0033)));
  const qy=d3.scaleLinear().domain([0,.0033]).range([2170,2009]);
  g.append("rect").attr("x",1241).attr("y",2009).attr("width",34).attr("height",161).attr("fill","url(#qg)");
  qTicks.forEach(v=>{
    txt(g,v.toFixed(3),1281,qy(v)+7,21);
    g.append("line").attr("x1",1241).attr("x2",1248).attr("y1",qy(v)).attr("y2",qy(v)).attr("stroke","#fff").attr("stroke-width",1.5);
    g.append("line").attr("x1",1268).attr("x2",1275).attr("y1",qy(v)).attr("y2",qy(v)).attr("stroke","#fff").attr("stroke-width",1.5);
  });
  txt(g,"Gene_number",1228,2229,28);
  g.append("rect").attr("x",1241).attr("y",2241).attr("width",34).attr("height",100).attr("fill","#f2f2f2");
  const ky=d3.scalePoint().domain(geneKey).range([2257.5,2324]);
  geneKey.forEach(v=>{
    g.append("circle").attr("cx",1258).attr("cy",ky(v)).attr("r",size(v+450)).attr("fill","#000");
    txt(g,v,1287,ky(v)+7,20);
  });
})();

// ===== D
(function(){
  const g=svg.append("g");
  const x=d3.scaleLinear().domain([0,1568]).range([1500,3259]);
  const y=d3.scaleLinear().domain([0,1568]).range([1400,2860]);
  netNames.forEach((n,i)=>g.append("line").attr("x1",x(netX[i])).attr("y1",y(netY[i])).attr("x2",x(hub.x)).attr("y2",y(hub.y)).attr("stroke","#f2b90f").attr("stroke-width",2.6));
  g.append("circle").attr("cx",x(hub.x)).attr("cy",y(hub.y)).attr("r",157).attr("fill","#a45ee5");
  g.selectAll("circle.n").data(netNames).join("circle").attr("class","n").attr("cx",(d,i)=>x(netX[i])).attr("cy",(d,i)=>y(netY[i])).attr("r",31.5).attr("fill","#4f86e0");
  g.selectAll("text.n").data(netNames).join("text").attr("class","n").attr("x",(d,i)=>x(netLabelX[i])).attr("y",(d,i)=>y(netLabelY[i])+9).attr("text-anchor","middle").attr("font-size",27.3).text(d=>d);
  txt(g,hub.name,x(697),2191,42,{anchor:"middle",len:627});
})();
</script></body></html>
